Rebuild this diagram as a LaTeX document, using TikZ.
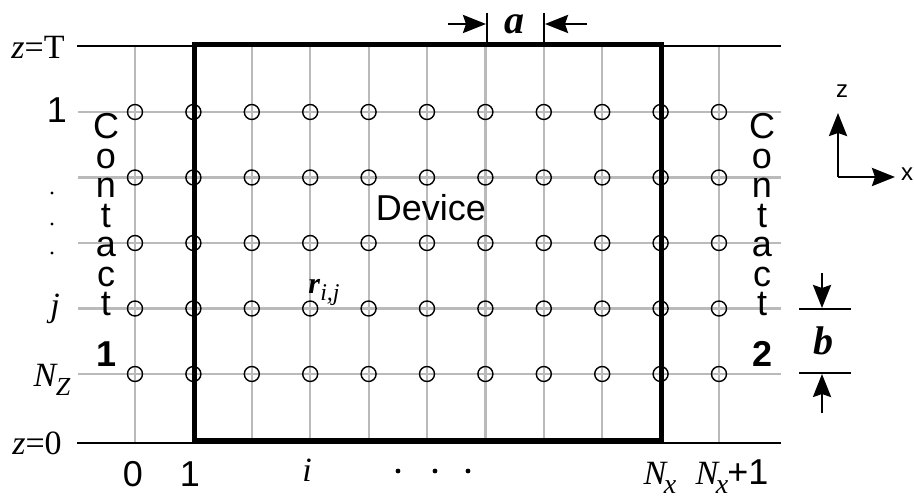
\documentclass[tikz,border=0pt]{standalone}
\usepackage{fontspec}
\setmainfont{Liberation Serif}
\setsansfont{Liberation Sans}
\usetikzlibrary{arrows.meta}
\definecolor{gridgrey}{RGB}{186,186,186}
\begin{document}
\begin{tikzpicture}[x=1pt,y=-1pt,
  gridline/.style={draw=gridgrey, line width=2.2pt},
  thinblack/.style={draw=black, line width=2.8pt},
  devbox/.style={draw=black, line width=5pt, line join=miter},
  site/.style={circle, draw=black, line width=1.4pt, minimum size=15pt, inner sep=0pt},
  sflab/.style={font=\fontsize{36}{36}\selectfont\sffamily, inner sep=0pt},
  contact/.style={font=\fontsize{36}{29.5}\selectfont\sffamily, inner sep=0pt, align=center, anchor=base},
  sfbold/.style={font=\fontsize{36}{36}\selectfont\sffamily\bfseries, inner sep=0pt},
  serlab/.style={font=\fontsize{34}{34}\selectfont, inner sep=0pt},
  axlab/.style={font=\fontsize{24}{24}\selectfont\sffamily, inner sep=0pt},
  dimlab/.style={font=\fontsize{40}{40}\selectfont\bfseries\itshape, inner sep=0pt},
  arrowline/.style={draw=black, line width=2.6pt, -{Stealth[length=23pt,width=18pt,inset=3pt]}},
  tick/.style={draw=black, line width=2.6pt},
  dotmark/.style={fill=black}
]
\useasboundingbox (0,0) rectangle (914,502);

% grid lines
\foreach \k in {0,...,10} {
  \coordinate (gt\k) at ({135+58.4*\k},46);
  \coordinate (gb\k) at ({135+58.4*\k},443);
  \draw[gridline] (gt\k) -- (gb\k);
}
\foreach \r in {0,...,4} {
  \coordinate (gl\r) at (78,{112+65.5*\r});
  \coordinate (gr\r) at (781,{112+65.5*\r});
  \draw[gridline] (gl\r) -- (gr\r);
}

% z=T and z=0 lines
\coordinate (topL) at (77,46);
\coordinate (topR) at (781,46);
\coordinate (botL) at (77,443);
\coordinate (botR) at (781,443);
\draw[thinblack] (topL) -- (topR);
\draw[thinblack] (botL) -- (botR);

% device
\coordinate (devA) at (194,44.5);
\coordinate (devB) at (661,441);
\draw[devbox] (devA) rectangle (devB);

% sites
\foreach \k in {0,...,10} {
  \foreach \r in {0,...,4} {
    \node[site] (s\k-\r) at ({135+58.4*\k},{112+65.5*\r}) {};
  }
}

% contacts
\node[contact] (contact1) at (106,316) {C\\o\\n\\t\\a\\c\\t};
\node[contact] (contact2) at (762,316) {C\\o\\n\\t\\a\\c\\t};
\node[sfbold, anchor=base] (c1num) at (107,367) {1};
\node[sfbold, anchor=base] (c2num) at (763,367) {2};

% device label
\node[sflab] (devlab) at (431,208) {Device};
\node[inner sep=0pt, font=\fontsize{30}{30}\selectfont] (rij) at (324,292)
  {\textbf{\textit{r}}\raisebox{-7pt}{\fontsize{24}{24}\selectfont\itshape i,j}};

% left labels
\node[serlab] (zT) at (38,47) {\textit{z}=T};
\node[sflab] (row1) at (57,110) {1};
\fill[dotmark] (52,193) circle (1.7);
\fill[dotmark] (52,224) circle (1.7);
\fill[dotmark] (52,253) circle (1.7);
\node[serlab, anchor=base] (rowj) at (55,317) {\textit{j}};
\node[serlab, anchor=base] (rowN) at (52,387) {\textit{N}\kern-2pt\raisebox{-9pt}{\fontsize{26}{26}\selectfont\itshape Z}};
\node[serlab] (z0) at (37,443) {\textit{z}=0};

% bottom labels
\node[sflab, anchor=base] (col0) at (133,487) {0};
\node[sflab, anchor=base] (col1) at (190,487) {1};
\node[serlab, anchor=base] (coli) at (307,482) {\textit{i}};
\fill[dotmark] (398,471) circle (2.4);
\fill[dotmark] (435,471) circle (2.4);
\fill[dotmark] (468,471) circle (2.4);
\node[serlab, anchor=base] (colN) at (660,485) {\textit{N}\kern-4pt\raisebox{-9pt}{\fontsize{28}{28}\selectfont\itshape x}};
\node[serlab, anchor=base] (colN1) at (732,485) {\textit{N}\kern-4pt\raisebox{-9pt}{\fontsize{28}{28}\selectfont\itshape x}\kern-1pt{\fontsize{36}{36}\selectfont\sffamily +1}};

% axes
\coordinate (ax0) at (838,177);
\coordinate (axz) at (838,113);
\coordinate (axx) at (895,177);
\draw[arrowline] (ax0) -- (axz);
\draw[arrowline] (ax0) -- (axx);
\node[axlab] (zlab) at (842,91) {z};
\node[axlab] (xlab) at (907,174) {x};

% a marker
\coordinate (aT1) at (487,13);
\coordinate (aB1) at (487,46);
\coordinate (aT2) at (544,13);
\coordinate (aB2) at (544,46);
\draw[tick] (aT1) -- (aB1);
\draw[tick] (aT2) -- (aB2);
\coordinate (aL) at (448,24);
\coordinate (aLt) at (486,24);
\coordinate (aR) at (587,24);
\coordinate (aRt) at (545,24);
\draw[arrowline] (aL) -- (aLt);
\draw[arrowline] (aR) -- (aRt);
\node[dimlab] (alab) at (514,24) {a};

% b marker
\coordinate (bL1) at (799,309);
\coordinate (bR1) at (851,309);
\coordinate (bL2) at (799,373);
\coordinate (bR2) at (851,373);
\draw[tick] (bL1) -- (bR1);
\draw[tick] (bL2) -- (bR2);
\coordinate (bT) at (822,273);
\coordinate (bTt) at (822,308);
\coordinate (bB) at (822,413);
\coordinate (bBt) at (822,374);
\draw[arrowline] (bT) -- (bTt);
\draw[arrowline] (bB) -- (bBt);
\node[dimlab] (blab) at (823,341) {b};
\end{tikzpicture}
\end{document}
